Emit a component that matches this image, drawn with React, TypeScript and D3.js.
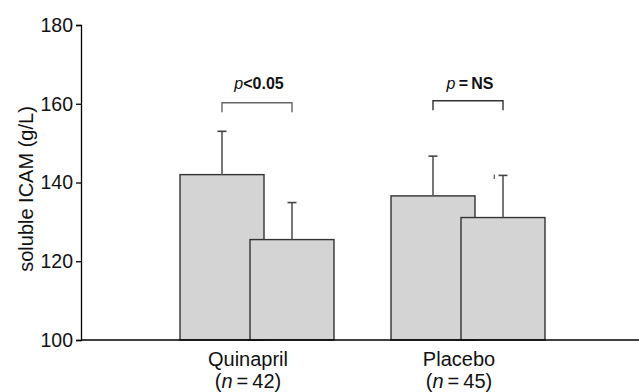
import React, { useEffect, useRef } from "react";
import * as d3 from "d3";

const groups = ["Quinapril", "Placebo"];
const groupN = ["42", "45"];
const barMeans = [
  [142.0, 125.5],
  [136.6, 131.1],
];
const barUpper = [
  [153.0, 134.9],
  [146.7, 141.8],
];
const pLabels = [
  { p: "p", rel: "<", val: "0.05" },
  { p: "p", rel: "\u2009=\u2009", val: "NS" },
];
const yTicks = [100, 120, 140, 160, 180];

const W = 639;
const H = 392;

export default function App() {
  const ref = useRef<SVGSVGElement | null>(null);

  useEffect(() => {
    const svg = d3.select(ref.current);
    svg.selectAll("*").remove();
    const font = "'Liberation Sans', Arial, sans-serif";

    const y = d3.scaleLinear().domain([100, 180]).range([340, 25]);
    const gx = d3.scaleLinear().domain([0, 1]).range([257, 468]);
    const barW = 84;
    const offset = 35;

    // y axis
    const yAxis = d3.axisLeft(y).tickValues(yTicks).tickSize(5).tickPadding(3);
    const ga = svg.append("g").attr("transform", "translate(81,0)").call(yAxis);
    ga.select(".domain").attr("stroke", "#000").attr("stroke-width", 1.3);
    ga.selectAll(".tick line").attr("stroke", "#000").attr("stroke-width", 1.3);
    ga.selectAll(".tick text")
      .attr("font-family", font)
      .attr("font-size", 19.5)
      .attr("fill", "#111");

    svg
      .append("text")
      .attr("transform", `translate(33,${189}) rotate(-90)`)
      .attr("text-anchor", "middle")
      .attr("font-family", font)
      .attr("font-size", 20)
      .attr("fill", "#111")
      .text("soluble ICAM (g/L)");

    groups.forEach((g, gi) => {
      const c = gx(gi);
      const centres = [c - offset, c + offset];
      centres.forEach((bx, bi) => {
        svg
          .append("rect")
          .attr("x", bx - barW / 2)
          .attr("y", y(barMeans[gi][bi]))
          .attr("width", barW)
          .attr("height", y(100) - y(barMeans[gi][bi]))
          .attr("fill", "#d4d4d4")
          .attr("stroke", "#333")
          .attr("stroke-width", 1.4);
      });
      centres.forEach((bx, bi) => {
        svg
          .append("line")
          .attr("x1", bx)
          .attr("x2", bx)
          .attr("y1", y(barMeans[gi][bi]))
          .attr("y2", y(barUpper[gi][bi]))
          .attr("stroke", "#555")
          .attr("stroke-width", 1.6);
        svg
          .append("line")
          .attr("x1", bx - 4.5)
          .attr("x2", bx + 4.5)
          .attr("y1", y(barUpper[gi][bi]))
          .attr("y2", y(barUpper[gi][bi]))
          .attr("stroke", "#444")
          .attr("stroke-width", 1.6);
      });

      // bracket
      const bt = gi === 0 ? 102.7 : 100.8;
      svg
        .append("path")
        .attr("d", `M${centres[0]},${bt + 9.5}V${bt}H${centres[1]}V${bt + 9.5}`)
        .attr("fill", "none")
        .attr("stroke", gi === 0 ? "#666" : "#333")
        .attr("stroke-width", 1.4);

      const t = svg
        .append("text")
        .attr("x", c + 2)
        .attr("y", 89)
        .attr("text-anchor", "middle")
        .attr("font-family", font)
        .attr("font-size", 16)
        .attr("fill", "#111");
      t.append("tspan").attr("font-style", "italic").text(pLabels[gi].p);
      t.append("tspan").attr("font-weight", "bold").text(pLabels[gi].rel);
      t.append("tspan").attr("font-weight", "bold").text(pLabels[gi].val);

      // category labels
      const lx = c - 9;
      svg
        .append("text")
        .attr("x", lx)
        .attr("y", 366)
        .attr("text-anchor", "middle")
        .attr("font-family", font)
        .attr("font-size", 20)
        .attr("fill", "#111")
        .text(g);
      const t2 = svg
        .append("text")
        .attr("x", lx)
        .attr("y", 388)
        .attr("text-anchor", "middle")
        .attr("font-family", font)
        .attr("font-size", 20)
        .attr("fill", "#111");
      t2.append("tspan").text("(");
      t2.append("tspan").attr("font-style", "italic").text("n");
      t2.append("tspan").text("\u2009=\u2009" + groupN[gi] + ")");
    });

    // tiny stray mark near placebo error bar
    svg
      .append("line")
      .attr("x1", 494.3)
      .attr("x2", 494.3)
      .attr("y1", 174.5)
      .attr("y2", 179)
      .attr("stroke", "#555")
      .attr("stroke-width", 1.2);

    // x axis baseline
    svg
      .append("line")
      .attr("x1", 81)
      .attr("x2", W)
      .attr("y1", y(100))
      .attr("y2", y(100))
      .attr("stroke", "#000")
      .attr("stroke-width", 1.4);
  }, []);

  return (
    <svg
      ref={ref}
      width={W}
      height={H}
      style={{ position: "absolute", left: 0, top: 0, background: "#fff" }}
    />
  );
}
